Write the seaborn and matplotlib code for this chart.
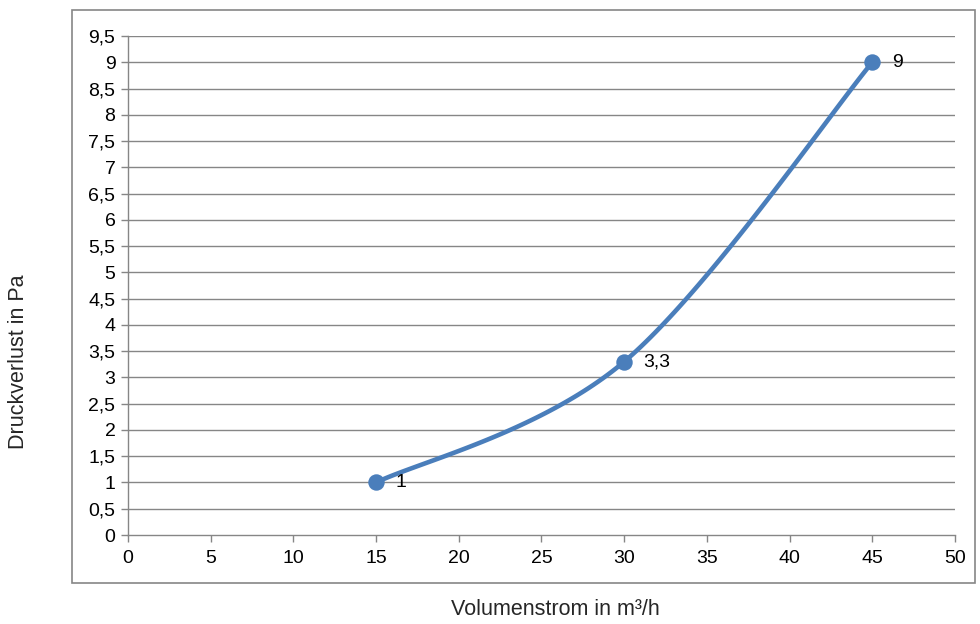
import numpy as np
import pandas as pd
import matplotlib
matplotlib.use("Agg")
import matplotlib.pyplot as plt
import seaborn as sns
from matplotlib.patches import Rectangle

# Data
volumenstrom = [15, 30, 45]
druckverlust = [1, 3.3, 9]
point_labels = ["1", "3,3", "9"]
x_ticks = [0, 5, 10, 15, 20, 25, 30, 35, 40, 45, 50]
y_ticks = [0, 0.5, 1, 1.5, 2, 2.5, 3, 3.5, 4, 4.5, 5, 5.5, 6, 6.5, 7, 7.5, 8, 8.5, 9, 9.5]

sns.set_style("white")
plt.rcParams['font.family'] = ['Liberation Sans', 'DejaVu Sans']

def excel_smooth(xs, ys, n=60):
    P = np.column_stack([xs, ys]).astype(float)
    ext = np.vstack([P[0], P, P[-1]])
    out = []
    t = np.linspace(0, 1, n)[:, None]
    for i in range(len(P) - 1):
        p0, p1, p2, p3 = ext[i], ext[i + 1], ext[i + 2], ext[i + 3]
        c1 = p1 + (p2 - p0) / 6.0
        c2 = p2 - (p3 - p1) / 6.0
        seg = ((1 - t) ** 3) * p1 + 3 * ((1 - t) ** 2) * t * c1 + 3 * (1 - t) * t ** 2 * c2 + t ** 3 * p2
        out.append(seg if i == 0 else seg[1:])
    return np.vstack(out)

curve = excel_smooth(volumenstrom, druckverlust)
df_curve = pd.DataFrame({"x": curve[:, 0], "y": curve[:, 1]})
df_pts = pd.DataFrame({"x": volumenstrom, "y": druckverlust})

fig = plt.figure(figsize=(9.8, 6.24), dpi=100)
ax = fig.add_axes([0.1306, 0.1426, 0.8439, 0.7997])

grid_col = "#868686"
blue = "#4A7EBB"

ax.set_xlim(0, 50)
ax.set_ylim(0, 9.5)
ax.set_yticks(y_ticks)
ax.set_xticks(x_ticks)
for yv in y_ticks[1:]:
    ax.axhline(yv, color=grid_col, lw=1.0, zorder=0)

sns.lineplot(data=df_curve, x="x", y="y", sort=False, estimator=None, ax=ax,
             color=blue, lw=3.3, zorder=3)
sns.scatterplot(data=df_pts, x="x", y="y", ax=ax, color=blue, s=140,
                edgecolor=blue, linewidth=0, zorder=4)
for xv, yv, lab in zip(volumenstrom, druckverlust, point_labels):
    ax.annotate(lab, (xv, yv), xytext=(14, 0), textcoords="offset points",
                va="center", ha="left", fontsize=14, color="#000000")

fmt = lambda v: (("%g" % v).replace(".", ","))
ax.set_yticklabels([fmt(v) for v in y_ticks], fontsize=14)
ax.set_xticklabels([fmt(v) for v in x_ticks], fontsize=14)
ax.set_xlabel("")
ax.set_ylabel("")

for s in ["top", "right"]:
    ax.spines[s].set_visible(False)
for s in ["left", "bottom"]:
    ax.spines[s].set_color(grid_col)
    ax.spines[s].set_linewidth(1.0)
ax.tick_params(axis="both", direction="out", length=5, width=1.0, color=grid_col,
               labelcolor="#000000", bottom=True, left=True)
ax.tick_params(axis="x", pad=6)
ax.tick_params(axis="y", pad=4)

fig.patches.append(Rectangle((0.0735, 0.0657), 0.9214, 0.918, transform=fig.transFigure,
                             fill=False, edgecolor=grid_col, lw=1.2, zorder=0))

fig.text(0.019, 0.421, "Druckverlust in Pa", rotation=90, va="center", ha="center", fontsize=15.5)
fig.text(0.567, 0.024, "Volumenstrom in m³/h", va="center", ha="center", fontsize=15.5)

fig.savefig("out.png", dpi=100)
